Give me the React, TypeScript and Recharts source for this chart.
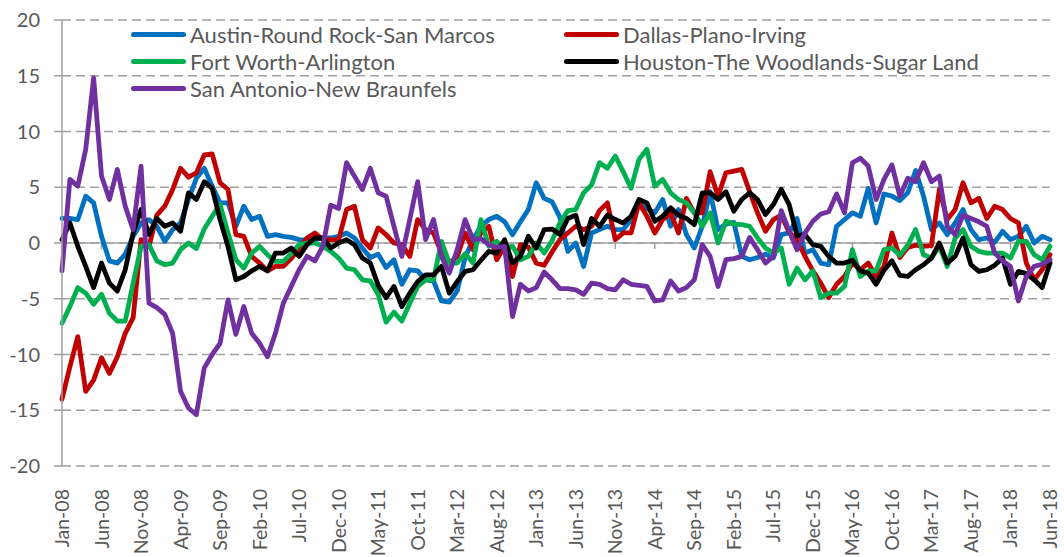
import React from 'react';
import { LineChart, Line, XAxis, YAxis, CartesianGrid, ReferenceLine } from 'recharts';

const MONTH_NAMES = ['Jan', 'Feb', 'Mar', 'Apr', 'May', 'Jun', 'Jul', 'Aug', 'Sep', 'Oct', 'Nov', 'Dec'];
const YEARS = ['08', '09', '10', '11', '12', '13', '14', '15', '16', '17', '18'];
const CATEGORIES: string[] = [];
YEARS.forEach((yy) => MONTH_NAMES.forEach((m) => CATEGORIES.push(`${m}-${yy}`)));
CATEGORIES.splice(126);

const TICK_LABELS = [
  'Jan-08', 'Jun-08', 'Nov-08', 'Apr-09', 'Sep-09', 'Feb-10', 'Jul-10', 'Dec-10', 'May-11',
  'Oct-11', 'Mar-12', 'Aug-12', 'Jan-13', 'Jun-13', 'Nov-13', 'Apr-14', 'Sep-14', 'Feb-15',
  'Jul-15', 'Dec-15', 'May-16', 'Oct-16', 'Mar-17', 'Aug-17', 'Jan-18', 'Jun-18',
];
const Y_TICKS = [-20, -15, -10, -5, 0, 5, 10, 15, 20];

const AUSTIN = [
  2.2, 2.2, 2.1, 4.2, 3.6, 0.6, -1.6, -1.8, -1.0, 0.6, 1.8, 2.1, 1.5, 0.15, 1.2, 1.8, 3.9, 5.8, 6.7, 5.1,
  3.6, 3.6, 1.5, 3.3, 2.1, 2.4, 0.6, 0.75, 0.6, 0.5, 0.3, 0.25, 0.3, 0.45, 0.45, 0.6, 0.9, 0.45, -0.45, -1.3,
  -1.0, -2.2, -1.5, -3.7, -2.4, -2.5, -3.3, -3.4, -5.2, -5.3, -4.3, -1.3, 0.3, 1.5, 2.1, 2.4, 1.9, 0.75, 1.9, 3.0,
  5.4, 4.0, 3.7, 2.3, -0.75, 0, -2.1, 0.9, 1.2, 1.5, 1.2, 1.2, 2.1, 3.5, 3.1, 2.7, 3.9, 1.5, 3.0, 0.75,
  -0.45, 1.5, 4.6, 1.2, 1.7, 1.85, -1.2, -1.5, -1.3, -1.0, -1.35, 0.75, 0.9, 2.2, -0.9, -0.6, -1.8, -1.95, 1.5, 2.1,
  2.7, 2.4, 4.9, 1.8, 4.4, 4.2, 3.8, 4.5, 6.5, 4.2, 1.2, 1.8, 0.75, 1.8, 3.0, 1.2, 0.3, 0.45, 0.06, 1.05,
  0.3, 0.6, 1.5, 0, 0.6, 0.3,
];

const DALLAS = [
  -14.0, -11.1, -8.4, -13.3, -12.3, -10.3, -11.7, -10.2, -8.1, -6.7, 0.3, -0.3, 2.5, 3.3, 4.8, 6.7, 5.9, 6.3, 7.9, 8.0,
  5.4, 4.8, 0.75, 0.6, -1.2, -1.8, -2.5, -2.1, -2.1, -1.4, -0.45, 0.45, 0.9, 0.3, 0.3, 0.3, 3.0, 3.3, 0.3, -0.45,
  1.35, 0.75, 0, -0.15, -1.2, 2.1, 1.2, 0.9, -0.9, -1.8, -1.2, 0.9, -0.6, 0.9, 1.5, -1.5, -0.3, -3.0, -0.15, -0.36,
  -1.8, -2.0, -0.8, 0.3, 0.9, 1.5, 1.2, 1.5, 2.9, 3.6, 0.3, 0.9, 0.9, 3.6, 2.4, 0.9, 2.1, 2.7, 0.9, 4.0,
  2.7, 2.7, 6.4, 4.2, 6.3, 6.45, 6.6, 4.6, 2.7, 1.05, 2.1, 2.5, 0.95, 0.3, -1.2, -2.5, -3.6, -4.9, -3.7, -3.0,
  -1.8, -2.4, -1.8, -3.0, -2.1, 0.9, -1.3, -0.4, -0.2, -0.3, -0.24, 4.8, 2.1, 3.0, 5.4, 3.6, 4.0, 2.2, 3.3, 3.0,
  2.2, 1.8, -1.8, -3.3, -2.4, -1.05,
];

const FORT_WORTH = [
  -7.2, -5.7, -4.0, -4.5, -5.5, -4.6, -6.3, -7.0, -7.0, -3.6, -0.3, -0.15, -1.6, -1.95, -1.8, -0.6, 0.0, -0.5, 1.26, 2.4,
  3.45, 0.9, -1.5, -2.25, -0.9, -0.3, -1.05, -1.65, -1.65, -0.96, -0.15, 0, 0, -0.3, -0.75, -1.35, -2.25, -2.4, -3.3, -3.4,
  -4.6, -7.1, -6.2, -7.0, -5.4, -3.9, -3.3, -3.3, 0.15, -1.8, -1.8, -0.96, -1.8, 2.1, -0.3, 0.15, -0.45, -0.3, -1.5, -1.2,
  0, -0.9, 0.2, 1.8, 2.9, 3.0, 4.5, 5.2, 7.2, 6.7, 7.8, 6.4, 4.9, 7.5, 8.4, 5.1, 5.7, 4.5, 3.9, 3.6,
  2.7, 1.5, 2.7, 0, 1.95, 1.7, 1.65, 1.5, 0.45, -0.45, -0.9, -0.45, -3.7, -2.25, -3.3, -2.5, -4.9, -4.5, -4.5, -3.9,
  -0.6, -3.0, -2.5, -2.5, -0.6, -0.45, -1.1, -0.2, 1.2, -1.05, -1.35, -0.3, -2.1, 0.45, 1.2, -0.3, -0.75, -0.9, -0.9, -0.9,
  -1.35, 0.15, 0.15, -1.05, -1.5, -0.3,
];

const HOUSTON = [
  0.3, 1.8, -0.3, -2.1, -4.0, -1.8, -3.6, -4.3, -2.4, 0.9, 3.0, 0.75, 2.2, 1.5, 1.8, 1.05, 4.5, 3.9, 5.5, 4.9,
  2.1, -0.3, -3.3, -3.0, -2.5, -2.1, -2.5, -0.9, -0.9, -0.45, -1.2, -0.15, 0.45, 0.45, -0.45, 0, 0.3, -0.15, -1.35, -1.8,
  -3.8, -4.9, -3.9, -5.7, -4.5, -3.45, -2.85, -2.85, -2.1, -4.5, -3.45, -2.55, -2.4, -1.55, -0.75, -0.9, 0.3, -1.8, -1.2, 0.6,
  -0.45, 1.2, 1.25, 0.75, 2.2, 2.5, -0.15, 2.2, 1.5, 2.5, 2.1, 1.8, 2.4, 3.9, 3.6, 1.95, 2.4, 3.15, 2.5, 2.2,
  1.65, 4.5, 4.5, 3.9, 4.6, 2.85, 3.9, 4.5, 3.9, 2.55, 3.45, 4.8, 3.45, 0.66, 0.75, -0.15, -0.3, -1.2, -1.8, -1.8,
  -1.55, -2.5, -2.7, -3.7, -2.45, -1.6, -2.9, -3.0, -2.4, -1.95, -1.35, 0, -1.8, -1.2, 0.45, -1.95, -2.55, -2.4, -2.0, -1.35,
  -3.7, -2.55, -2.75, -3.3, -4.0, -1.8,
];

const SAN_ANTONIO = [
  -2.5, 5.7, 5.1, 8.4, 14.8, 6.0, 3.9, 6.6, 3.3, 1.2, 6.9, -5.4, -5.8, -6.4, -8.1, -13.3, -14.8, -15.4, -11.2, -10.0,
  -9.0, -5.1, -8.2, -5.7, -8.1, -9.0, -10.2, -8.1, -5.4, -3.9, -2.4, -1.2, -1.6, -0.3, 3.4, 3.1, 7.2, 6.0, 4.8, 6.7,
  4.5, 4.2, 1.5, -1.2, 2.1, 5.5, 0.3, 2.1, -1.2, -2.7, -0.6, 2.1, 0.3, 0.4, -0.15, -0.4, -0.3, -6.6, -3.7, -4.3,
  -4.0, -2.6, -3.3, -4.1, -4.1, -4.2, -4.6, -3.6, -3.7, -4.1, -4.2, -3.3, -3.7, -3.8, -3.9, -5.2, -5.1, -3.4, -4.3, -4.0,
  -3.3, -0.15, -1.2, -3.9, -1.5, -1.4, -1.2, 0.5, -0.6, -1.8, -1.2, 2.9, 1.05, -0.6, 0.9, 1.95, 2.6, 2.8, 4.4, 2.7,
  7.2, 7.6, 6.9, 3.9, 5.7, 7.0, 4.2, 5.8, 5.5, 7.2, 5.5, 6.0, 1.5, 0.75, 2.5, 2.2, 1.9, 1.5, -0.9, -1.6,
  -2.1, -5.2, -3.0, -2.1, -1.9, -1.5,
];

const SERIES = [
  { key: 'austin', name: 'Austin-Round Rock-San Marcos', color: '#0070C0', values: AUSTIN },
  { key: 'dallas', name: 'Dallas-Plano-Irving', color: '#C00000', values: DALLAS },
  { key: 'fortworth', name: 'Fort Worth-Arlington', color: '#00B050', values: FORT_WORTH },
  { key: 'houston', name: 'Houston-The Woodlands-Sugar Land', color: '#000000', values: HOUSTON },
  { key: 'sanantonio', name: 'San Antonio-New Braunfels', color: '#7030A0', values: SAN_ANTONIO },
];

const data = CATEGORIES.map((month, i) => {
  const row: Record<string, string | number> = { month };
  SERIES.forEach((s) => {
    row[s.key] = s.values[i];
  });
  return row;
});

const FONT = 'Lato, "Open Sans", sans-serif';
const TEXT_COLOR = '#595959';
const AXIS_COLOR = '#A0A0A0';

const RotatedTick = (props: any) => {
  const { x, y, payload } = props;
  return (
    <text
      x={x}
      y={y}
      transform={`rotate(-90, ${x}, ${y})`}
      textAnchor="end"
      dy="0.36em"
      fill={TEXT_COLOR}
      fontSize={19.5}
      fontFamily={FONT}
    >
      {payload.value}
    </text>
  );
};

const ZeroAxis = (props: any) => {
  const { x1, y1, x2, y2 } = props;
  const n = TICK_LABELS.length - 1;
  const ticks = [];
  for (let k = 0; k <= n; k++) {
    const x = x1 + ((x2 - x1) * k) / n;
    ticks.push(<line key={k} x1={x} y1={y1} x2={x} y2={y1 + 6} stroke={AXIS_COLOR} strokeWidth={1.5} />);
  }
  return (
    <g>
      <line x1={x1} y1={y1} x2={x2} y2={y2} stroke={AXIS_COLOR} strokeWidth={1.5} />
      {ticks}
    </g>
  );
};

const LegendBox = () => (
  <div
    style={{
      position: 'absolute',
      left: 131,
      top: 21,
      display: 'grid',
      gridTemplateColumns: '433px auto',
      gridAutoRows: '27px',
      fontFamily: FONT,
      fontSize: 22,
      color: TEXT_COLOR,
    }}
  >
    {SERIES.map((s) => (
      <div key={s.key} style={{ display: 'flex', alignItems: 'center', whiteSpace: 'nowrap' }}>
        <div style={{ width: 55, height: 5, borderRadius: 3, background: s.color, marginRight: 4 }} />
        <span style={{ lineHeight: '27px' }}>{s.name}</span>
      </div>
    ))}
  </div>
);

export default function App() {
  return (
    <div style={{ position: 'absolute', left: 0, top: 0, width: 1064, height: 557, background: '#fff' }}>
      <LineChart width={1064} height={557} data={data} margin={{ top: 20, right: 14, left: 0, bottom: 0 }}>
        <CartesianGrid vertical={false} stroke={AXIS_COLOR} strokeDasharray="9 5" strokeWidth={1.5} />
        <XAxis
          dataKey="month"
          ticks={TICK_LABELS}
          interval={0}
          height={91}
          axisLine={false}
          tickLine={false}
          tickSize={0}
          tickMargin={23}
          tick={<RotatedTick />}
        />
        <YAxis
          type="number"
          domain={[-20, 20]}
          ticks={Y_TICKS}
          width={62}
          tickSize={8}
          tickMargin={14}
          axisLine={{ stroke: AXIS_COLOR, strokeWidth: 1.5 }}
          tickLine={{ stroke: AXIS_COLOR, strokeWidth: 1.5 }}
          tick={{ fill: TEXT_COLOR, fontSize: 20, fontFamily: FONT }}
        />
        <ReferenceLine y={0} stroke={AXIS_COLOR} strokeWidth={1.5} shape={<ZeroAxis />} />
        {SERIES.map((s) => (
          <Line
            key={s.key}
            type="linear"
            dataKey={s.key}
            name={s.name}
            stroke={s.color}
            strokeWidth={4.8}
            strokeLinejoin="round"
            strokeLinecap="round"
            dot={false}
            activeDot={false}
            isAnimationActive={false}
          />
        ))}
      </LineChart>
      <LegendBox />
    </div>
  );
}
